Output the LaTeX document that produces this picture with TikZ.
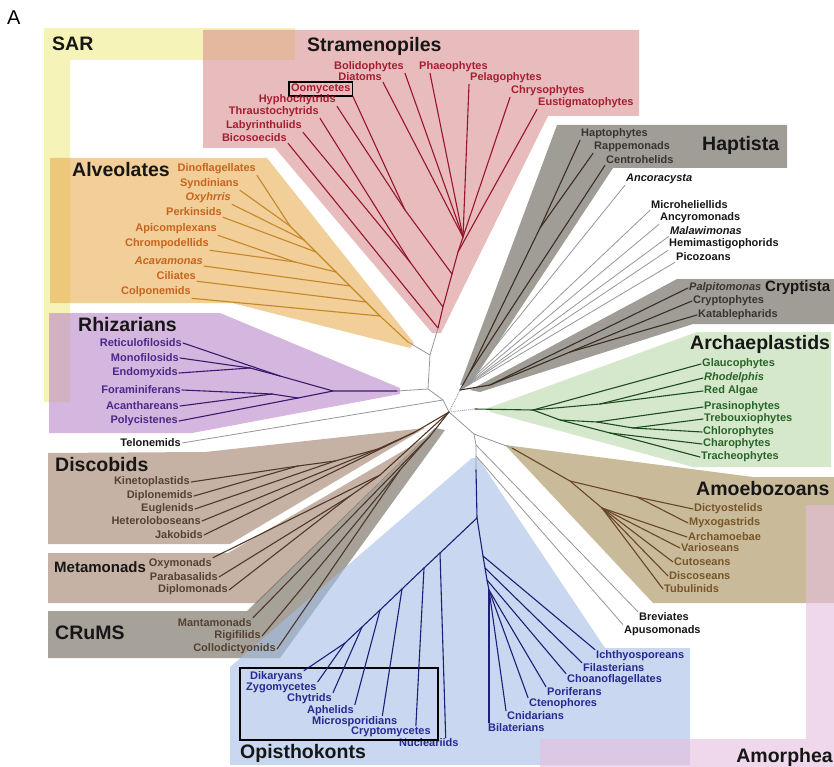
\documentclass[tikz,border=0pt]{standalone}
\usepackage{fontspec}
\setmainfont{Liberation Sans}
\usetikzlibrary{positioning}
\pgfdeclarelayer{background}
\pgfsetlayers{background,main}
% region fills (used at 0.6 opacity)
\definecolor{sarF}{RGB}{240,235,137}
\definecolor{strF}{RGB}{217,143,143}
\definecolor{alvF}{RGB}{233,173,83}
\definecolor{rhzF}{RGB}{185,133,200}
\definecolor{disF}{RGB}{160,127,103}
\definecolor{cruF}{RGB}{107,100,87}
\definecolor{hapF}{RGB}{97,92,80}
\definecolor{grnF}{RGB}{187,217,170}
\definecolor{amoF}{RGB}{165,142,87}
\definecolor{opiF}{RGB}{165,190,230}
\definecolor{amrF}{RGB}{230,190,223}
% text and branch colours
\definecolor{strT}{RGB}{165,30,50}
\definecolor{strB}{RGB}{150,20,45}
\definecolor{alvT}{RGB}{200,100,30}
\definecolor{alvB}{RGB}{195,135,40}
\definecolor{rhzT}{RGB}{75,40,135}
\definecolor{rhzB}{RGB}{60,25,110}
\definecolor{disT}{RGB}{85,65,50}
\definecolor{disB}{RGB}{80,55,40}
\definecolor{hapT}{RGB}{55,52,48}
\definecolor{hapB}{RGB}{60,45,35}
\definecolor{grnT}{RGB}{40,100,40}
\definecolor{grnB}{RGB}{30,75,30}
\definecolor{amoT}{RGB}{120,85,40}
\definecolor{amoB}{RGB}{105,70,35}
\definecolor{opiT}{RGB}{40,40,145}
\definecolor{opiB}{RGB}{30,30,120}
\definecolor{grayB}{RGB}{150,150,150}
\definecolor{nearblack}{RGB}{22,22,22}
\tikzstyle{region} = [draw=none, fill opacity=0.6]
\tikzstyle{leaf} = [inner sep=1pt, font=\fontsize{11}{12}\selectfont\bfseries]
\tikzstyle{leafL} = [leaf, anchor=east]
\tikzstyle{leafR} = [leaf, anchor=west]
\tikzstyle{group} = [inner sep=0pt, anchor=west, text=nearblack, font=\fontsize{19.5}{22}\selectfont\bfseries]
\tikzstyle{smallgroup} = [group, font=\fontsize{15}{17}\selectfont\bfseries]
\tikzstyle{strtext} = [text=strT]
\tikzstyle{alvtext} = [text=alvT]
\tikzstyle{rhztext} = [text=rhzT]
\tikzstyle{distext} = [text=disT]
\tikzstyle{haptext} = [text=hapT]
\tikzstyle{grntext} = [text=grnT]
\tikzstyle{amotext} = [text=amoT]
\tikzstyle{opitext} = [text=opiT]
\tikzstyle{blktext} = [text=nearblack]
\tikzstyle{branch} = [draw, line width=1.1pt, line cap=round]
\tikzstyle{strline} = [branch, color=strB]
\tikzstyle{alvline} = [branch, color=alvB]
\tikzstyle{rhzline} = [branch, color=rhzB]
\tikzstyle{disline} = [branch, color=disB]
\tikzstyle{hapline} = [branch, color=hapB]
\tikzstyle{grnline} = [branch, color=grnB]
\tikzstyle{amoline} = [branch, color=amoB]
\tikzstyle{opiline} = [branch, color=opiB]
\tikzstyle{grayline} = [draw, line width=0.8pt, color=grayB]
\tikzstyle{dotline} = [draw, line width=0.9pt, color=grayB, densely dotted]
\tikzstyle{boxline} = [draw, line width=1.2pt, color=black]
\begin{document}
\begin{tikzpicture}[x=1pt,y=-1pt]
\useasboundingbox (0,0) rectangle (834,767);

\begin{pgfonlayer}{background}
\fill [region,sarF] (44,28) -- (295,28) -- (295,60) -- (70,60) -- (70,402) -- (44,402) -- cycle;
\fill [region,strF] (203,30) -- (639,30) -- (639,116) -- (548,116) -- (441,333) -- (432,333) -- (275,148) -- (203,148) -- cycle;
\fill [region,alvF] (50,158) -- (267,158) -- (414,343) -- (410,348) -- (232,303) -- (50,303) -- cycle;
\fill [region,rhzF] (49,313) -- (220,313) -- (400,388) -- (400,394) -- (192,433) -- (49,433) -- cycle;
\fill [region,disF] (48,453) -- (205,452) -- (425,428) -- (230,544) -- (48,544) -- cycle;
\fill [region,disF] (48,553) -- (228,553) -- (425,438) -- (257,603) -- (48,603) -- cycle;
\fill [region,cruF] (48,611) -- (247,611) -- (435,428) -- (445,430) -- (280,658) -- (48,658) -- cycle;
\fill [region,hapF] (557,125) -- (787,125) -- (787,168) -- (613,168) -- (470,385) -- (460,385) -- cycle;
\fill [region,hapF] (677,279) -- (834,279) -- (834,324) -- (693,324) -- (480,392) -- (470,390) -- cycle;
\fill [region,grnF] (697,332) -- (831,332) -- (831,467) -- (693,467) -- (490,412) -- (488,408) -- cycle;
\fill [region,amoF] (505,445) -- (753,477) -- (834,477) -- (834,603) -- (653,603) -- cycle;
\fill [region,opiF] (472,458) -- (478,458) -- (605,648) -- (690,648) -- (690,765) -- (230,765) -- (230,667) -- cycle;
\fill [region,amrF] (806,505) -- (834,505) -- (834,767) -- (540,767) -- (540,739) -- (806,739) -- cycle;
\end{pgfonlayer}

% group names
\path (7,18) node (a0) [inner sep=0pt, anchor=west, font=\fontsize{20}{22}\selectfont] {A};
\path (52,44) node (t1) [group] {SAR};
\path (307,46) node (t2) [group] {Stramenopiles};
\path (72,170) node (t3) [group] {Alveolates};
\path (78,325) node (t4) [group] {Rhizarians};
\path (55,465) node (t5) [group] {Discobids};
\path (54,567) node (t6) [smallgroup] {Metamonads};
\path (55,633) node (t7) [group] {CRuMS};
\path (240,753) node (t8) [group] {Opisthokonts};
\path (696,489) node (t9) [group] {Amoebozoans};
\path (690,344) node (t10) [group] {Archaeplastids};
\path (702,145) node (t11) [group] {Haptista};
\path (765,288) node (t12) [smallgroup] {Cryptista};
\path (833,757) node (t13) [group, anchor=east] {Amorphea};

% Stramenopiles
\path (405,67) node (s1) [leafL,strtext] {Bolidophytes};
\path (383,77) node (s2) [leafL,strtext] {Diatoms};
\path (353,89) node (s3) [leafL,strtext,draw=black,line width=1.2pt,inner sep=2pt] {Oomycetes};
\path (337,100) node (s4) [leafL,strtext] {Hyphochytrids};
\path (320,112) node (s5) [leafL,strtext] {Thraustochytrids};
\path (303,126) node (s6) [leafL,strtext] {Labyrinthulids};
\path (288,138) node (s7) [leafL,strtext] {Bicosoecids};
\path (418,67) node (s8) [leafR,strtext] {Phaeophytes};
\path (469,78) node (s9) [leafR,strtext] {Pelagophytes};
\path (510,91) node (s10) [leafR,strtext] {Chrysophytes};
\path (537,103) node (s11) [leafR,strtext] {Eustigmatophytes};
\coordinate (ns1) at (438,328);
\coordinate (ns2) at (443,307);
\coordinate (ns3) at (452,274);
\coordinate (ns4) at (458,252);
\coordinate (ns5) at (463,237);
\coordinate (ns6) at (410,262);
\coordinate (ns7) at (405,210);
\path [strline] (ns1) -- (ns2) -- (ns3) -- (ns4) -- (ns5);
\path [strline] (s7.south east) -- (ns1);
\path [strline] (s6.south east) -- (ns6);
\path [strline] (s5.south east) -- (ns6);
\path [strline] (ns6) -- (ns2);
\path [strline] (s4.south east) -- (ns7);
\path [strline] (s3.south east) -- (ns7);
\path [strline] (ns7) -- (ns3);
\path [strline] (s11.south west) -- (ns4);
\path [strline] (s1.south east) -- (ns5);
\path [strline] (s2.south east) -- (ns5);
\path [strline] ([xshift=12pt]s8.south west) -- (ns5);
\path [strline] (s9.south west) -- (ns5);
\path [strline] (s10.south west) -- (ns5);

% Alveolates
\path (257,169) node (a1) [leafL,alvtext] {Dinoflagellates};
\path (240,184) node (a2) [leafL,alvtext] {Syndinians};
\path (232,198) node (a3) [leafL,alvtext] {\textit{Oxyhrris}};
\path (223,212) node (a4) [leafL,alvtext] {Perkinsids};
\path (218,229) node (a5) [leafL,alvtext] {Apicomplexans};
\path (210,244) node (a6) [leafL,alvtext] {Chrompodellids};
\path (204,261) node (a7) [leafL,alvtext] {\textit{Acavamonas}};
\path (197,276) node (a8) [leafL,alvtext] {Ciliates};
\path (192,292) node (a9) [leafL,alvtext] {Colponemids};
\coordinate (na0) at (408,342);
\coordinate (na1) at (380,316);
\coordinate (na2) at (366,302);
\coordinate (na3) at (350,286);
\coordinate (na4) at (336,272);
\coordinate (na5) at (316,252);
\coordinate (na6) at (304,240);
\coordinate (na7) at (290,226);
\coordinate (na8) at (295,262);
\path [alvline] (na7) -- (na6) -- (na5) -- (na4) -- (na3) -- (na2) -- (na1) -- (na0);
\path [alvline] (a1.south east) -- (na7);
\path [alvline] (a2.south east) -- (na7);
\path [alvline] (a3.south east) -- (na6);
\path [alvline] (a4.south east) -- (na5);
\path [alvline] (a5.south east) -- (na8);
\path [alvline] (a6.south east) -- (na8);
\path [alvline] (na8) -- (na4);
\path [alvline] (a7.south east) -- (na3);
\path [alvline] (a8.south east) -- (na2);
\path [alvline] (a9.south east) -- (na1);

% Rhizarians
\path (183,343) node (r1) [leafL,rhztext] {Reticulofilosids};
\path (180,358) node (r2) [leafL,rhztext] {Monofilosids};
\path (179,373) node (r3) [leafL,rhztext] {Endomyxids};
\path (182,390) node (r4) [leafL,rhztext] {Foraminiferans};
\path (180,406) node (r5) [leafL,rhztext] {Acanthareans};
\path (179,421) node (r6) [leafL,rhztext] {Polycistenes};
\coordinate (nr0) at (333,391);
\coordinate (nr1) at (280,376);
\coordinate (nr2) at (250,368);
\coordinate (nr3) at (298,398);
\coordinate (nr4) at (272,394);
\coordinate (nr5) at (397,391);
\path [rhzline] (r1.east) -- (nr1);
\path [rhzline] (r2.east) -- (nr2);
\path [rhzline] (r3.east) -- (nr2);
\path [rhzline] (nr2) -- (nr1) -- (nr0);
\path [rhzline] (r4.east) -- (nr4);
\path [rhzline] (r5.east) -- (nr4);
\path [rhzline] (nr4) -- (nr3);
\path [rhzline] (r6.east) -- (nr3);
\path [rhzline] (nr3) -- (nr0) -- (nr5);

% backbone
\coordinate (sa) at (430,355);
\coordinate (sar) at (428,389);
\coordinate (tsar) at (443,400);
\coordinate (ctr) at (449,412);
\coordinate (hb) at (460,390);
\coordinate (am) at (474,434);
\path (182,443) node (u1) [leafL,blktext] {Telonemids};
\path [grayline] (ns1) -- (sa);
\path [grayline] (na0) -- (sa);
\path [grayline] (sa) -- (sar);
\path [grayline] (nr5) -- (sar);
\path [grayline] (sar) -- (tsar);
\path [grayline] (u1.east) -- (tsar);
\path [grayline] (tsar) -- (ctr);
\path [dotline] (ctr) -- (hb);
\path [grayline] (ctr) -- (am);

% Discobids
\path (191,482) node (d1) [leafL,distext] {Kinetoplastids};
\path (194,496) node (d2) [leafL,distext] {Diplonemids};
\path (195,509) node (d3) [leafL,distext] {Euglenids};
\path (202,521) node (d4) [leafL,distext] {Heteroloboseans};
\path (204,535) node (d5) [leafL,distext] {Jakobids};
\coordinate (nd0) at (415,432);
\coordinate (nd1) at (378,449);
\coordinate (nd2) at (335,461);
\coordinate (nd3) at (298,466);
\path [disline] (d1.east) -- (nd3);
\path [disline] (d2.east) -- (nd3);
\path [disline] (nd3) -- (nd2);
\path [disline] (d3.east) -- (nd2);
\path [disline] (nd2) -- (nd1);
\path [disline] (d4.east) -- (nd1);
\path [disline] (nd1) -- (nd0);
\path [disline] (d5.east) -- (nd0);
\path [disline] (nd0) -- (ctr);

% Metamonads
\path (213,564) node (m1) [leafL,distext] {Oxymonads};
\path (219,577) node (m2) [leafL,distext] {Parabasalids};
\path (229,590) node (m3) [leafL,distext] {Diplomonads};
\coordinate (nm0) at (380,475);
\coordinate (nm1) at (350,496);
\path [disline] (m1.north east) -- (nm0);
\path [disline] (m2.east) -- (nm1);
\path [disline] (m3.east) -- (nm1);
\path [disline] (nm1) -- (nm0) -- (ctr);

% CRuMS
\path (253,623) node (c1) [leafL,distext] {Mantamonads};
\path (262,636) node (c2) [leafL,distext] {Rigifilids};
\path (277,649) node (c3) [leafL,distext] {Collodictyonids};
\coordinate (nc0) at (430,436);
\coordinate (nc1) at (400,470);
\path [disline] (c1.north east) -- (nc0);
\path [disline] (c2.east) -- (nc1);
\path [disline] (c3.east) -- (nc1);
\path [disline] (nc1) -- (nc0) -- (ctr);

% Haptista and the lone lineages
\path (580,134) node (h1) [leafR,haptext] {Haptophytes};
\path (593,147) node (h2) [leafR,haptext] {Rappemonads};
\path (605,160) node (h3) [leafR,haptext] {Centrohelids};
\coordinate (nh0) at (470,372);
\coordinate (nh1) at (540,228);
\path [hapline] (h1.south west) -- (nh1);
\path [hapline] (h2.south west) -- (nh1);
\path [hapline] (nh1) -- (nh0);
\path [hapline] (h3.south west) -- (nh0);
\path [hapline] (nh0) -- (hb);
\path (625,179) node (u2) [leafR,blktext] {\textit{Ancoracysta}};
\path (650,205) node (u3) [leafR,blktext] {Microheliellids};
\path (659,218) node (u4) [leafR,blktext] {Ancyromonads};
\path (669,231) node (u5) [leafR,blktext] {\textit{Malawimonas}};
\path (668,244) node (u6) [leafR,blktext] {Hemimastigophorids};
\path (675,257) node (u7) [leafR,blktext] {Picozoans};
\path [grayline] (u2.south west) -- (hb);
\path [grayline] (u3.south west) -- (hb);
\path [grayline] (u4.south west) -- (hb);
\path [grayline] (u5.south west) -- (hb);
\path [grayline] (u6.south west) -- (hb);
\path [grayline] (u7.south west) -- (hb);

% Cryptista
\path (688,288) node (k1) [leafR,haptext] {\textit{Palpitomonas}};
\path (692,301) node (k2) [leafR,haptext] {Cryptophytes};
\path (697,315) node (k3) [leafR,haptext] {Katablepharids};
\coordinate (nk0) at (490,385);
\coordinate (nk1) at (570,352);
\path [hapline] (k1.west) -- (nk0);
\path [hapline] (k2.west) -- (nk1);
\path [hapline] (k3.west) -- (nk1);
\path [hapline] (nk1) -- (nk0) -- (hb);

% Archaeplastids
\path (701,364) node (g1) [leafR,grntext] {Glaucophytes};
\path (703,378) node (g2) [leafR,grntext] {\textit{Rhodelphis}};
\path (703,391) node (g3) [leafR,grntext] {Red Algae};
\path (703,407) node (g4) [leafR,grntext] {Prasinophytes};
\path (703,419) node (g5) [leafR,grntext] {Trebouxiophytes};
\path (702,432) node (g6) [leafR,grntext] {Chlorophytes};
\path (702,444) node (g7) [leafR,grntext] {Charophytes};
\path (700,457) node (g8) [leafR,grntext] {Tracheophytes};
\coordinate (ng0) at (475,409);
\coordinate (ng1) at (533,410);
\coordinate (ng2) at (600,404);
\coordinate (ng3) at (560,420);
\coordinate (ng4) at (597,422);
\coordinate (ng5) at (633,428);
\coordinate (ng6) at (610,433);
\path [dotline] (ctr) -- (ng0);
\path [grnline] (ng0) -- (ng1);
\path [grnline] (g1.west) -- (ng1);
\path [grnline] (ng1) -- (ng2);
\path [grnline] (g2.west) -- (ng2);
\path [grnline] (g3.west) -- (ng2);
\path [grnline] (ng1) -- (ng3) -- (ng4);
\path [grnline] (g4.west) -- (ng4);
\path [grnline] (ng4) -- (ng5);
\path [grnline] (g5.west) -- (ng5);
\path [grnline] (g6.west) -- (ng5);
\path [grnline] (ng3) -- (ng6);
\path [grnline] (g7.west) -- (ng6);
\path [grnline] (g8.west) -- (ng6);

% Amoebozoans
\path (693,509) node (e1) [leafR,amotext] {Dictyostelids};
\path (688,523) node (e2) [leafR,amotext] {Myxogastrids};
\path (687,537) node (e3) [leafR,amotext] {Archamoebae};
\path (680,548) node (e4) [leafR,amotext] {Varioseans};
\path (673,562) node (e5) [leafR,amotext] {Cutoseans};
\path (668,576) node (e6) [leafR,amotext] {Discoseans};
\path (663,589) node (e7) [leafR,amotext] {Tubulinids};
\coordinate (ne0) at (512,448);
\coordinate (ne1) at (570,481);
\coordinate (ne2) at (637,497);
\coordinate (ne3) at (602,508);
\path [grayline] (am) -- (ne0);
\path [amoline] (ne0) -- (ne1) -- (ne2);
\path [amoline] (e1.west) -- (ne2);
\path [amoline] (e2.west) -- (ne2);
\path [amoline] (ne1) -- (ne3);
\path [amoline] (e3.west) -- (ne3);
\path [amoline] (e4.west) -- (ne3);
\path [amoline] (e5.west) -- (ne3);
\path [amoline] (e6.west) -- (ne3);
\path [amoline] (e7.west) -- (ne3);

% Breviates, Apusomonads
\path (638,617) node (b1) [leafR,blktext] {Breviates};
\path (623,631) node (b2) [leafR,blktext] {Apusomonads};
\coordinate (nb1) at (476,445);
\coordinate (nb2) at (476,456);
\coordinate (nb3) at (476,470);
\path [grayline] (am) -- (nb1) -- (nb2) -- (nb3);
\path [grayline] (nb1) -- (b1.north west);
\path [grayline] (nb2) -- (b2.north west);

% Opisthokonts
\path (249,677) node (o1) [leafR,opitext] {Dikaryans};
\path (245,688) node (o2) [leafR,opitext] {Zygomycetes};
\path (286,699) node (o3) [leafR,opitext] {Chytrids};
\path (306,711) node (o4) [leafR,opitext] {Aphelids};
\path (311,722) node (o5) [leafR,opitext] {Microsporidians};
\path (350,732) node (o6) [leafR,opitext] {Cryptomycetes};
\path (398,743) node (o7) [leafR,opitext] {Nucleariids};
\path (595,656) node (o8) [leafR,opitext] {Ichthyosporeans};
\path (582,668) node (o9) [leafR,opitext] {Filasterians};
\path (566,680) node (o10) [leafR,opitext] {Choanoflagellates};
\path (546,692) node (o11) [leafR,opitext] {Poriferans};
\path (528,704) node (o12) [leafR,opitext] {Ctenophores};
\path (506,716) node (o13) [leafR,opitext] {Cnidarians};
\path (487,728) node (o14) [leafR,opitext] {Bilaterians};
\path [boxline] (240,668) rectangle (438,740);
\coordinate (no0) at (477,518);
\coordinate (no1) at (440,553);
\coordinate (no2) at (424,568);
\coordinate (no3) at (402,589);
\coordinate (no4) at (380,610);
\coordinate (no5) at (362,627);
\coordinate (no6) at (345,643);
\coordinate (no7) at (483,556);
\coordinate (no8) at (485,568);
\coordinate (no9) at (487,580);
\coordinate (no10) at (489,590);
\path [opiline] (nb3) -- (no0);
\path [opiline] (no0) -- (no1) -- (no2) -- (no3) -- (no4) -- (no5) -- (no6);
\path [opiline] (no1) -- ([xshift=-14pt]o7.north east);
\path [opiline] (no2) -- ([xshift=-16pt]o6.north east);
\path [opiline] (no3) -- ([xshift=-16pt]o5.north east);
\path [opiline] (no4) -- (o4.north east);
\path [opiline] (no5) -- (o3.north east);
\path [opiline] (no6) -- (o2.north east);
\path [opiline] (no6) -- (o1.north east);
\path [opiline] (no0) -- (no7) -- (no8) -- (no9) -- (no10);
\path [opiline] (no7) -- (o8.north west);
\path [opiline] (no8) -- (o9.north west);
\path [opiline] (no9) -- (o10.north west);
\path [opiline] (no10) -- (o11.north west);
\path [opiline] (no10) -- (o12.north west);
\path [opiline] (no10) -- (o13.north west);
\path [opiline] (no10) -- ([xshift=2pt]o14.north west);
\end{tikzpicture}
\end{document}
